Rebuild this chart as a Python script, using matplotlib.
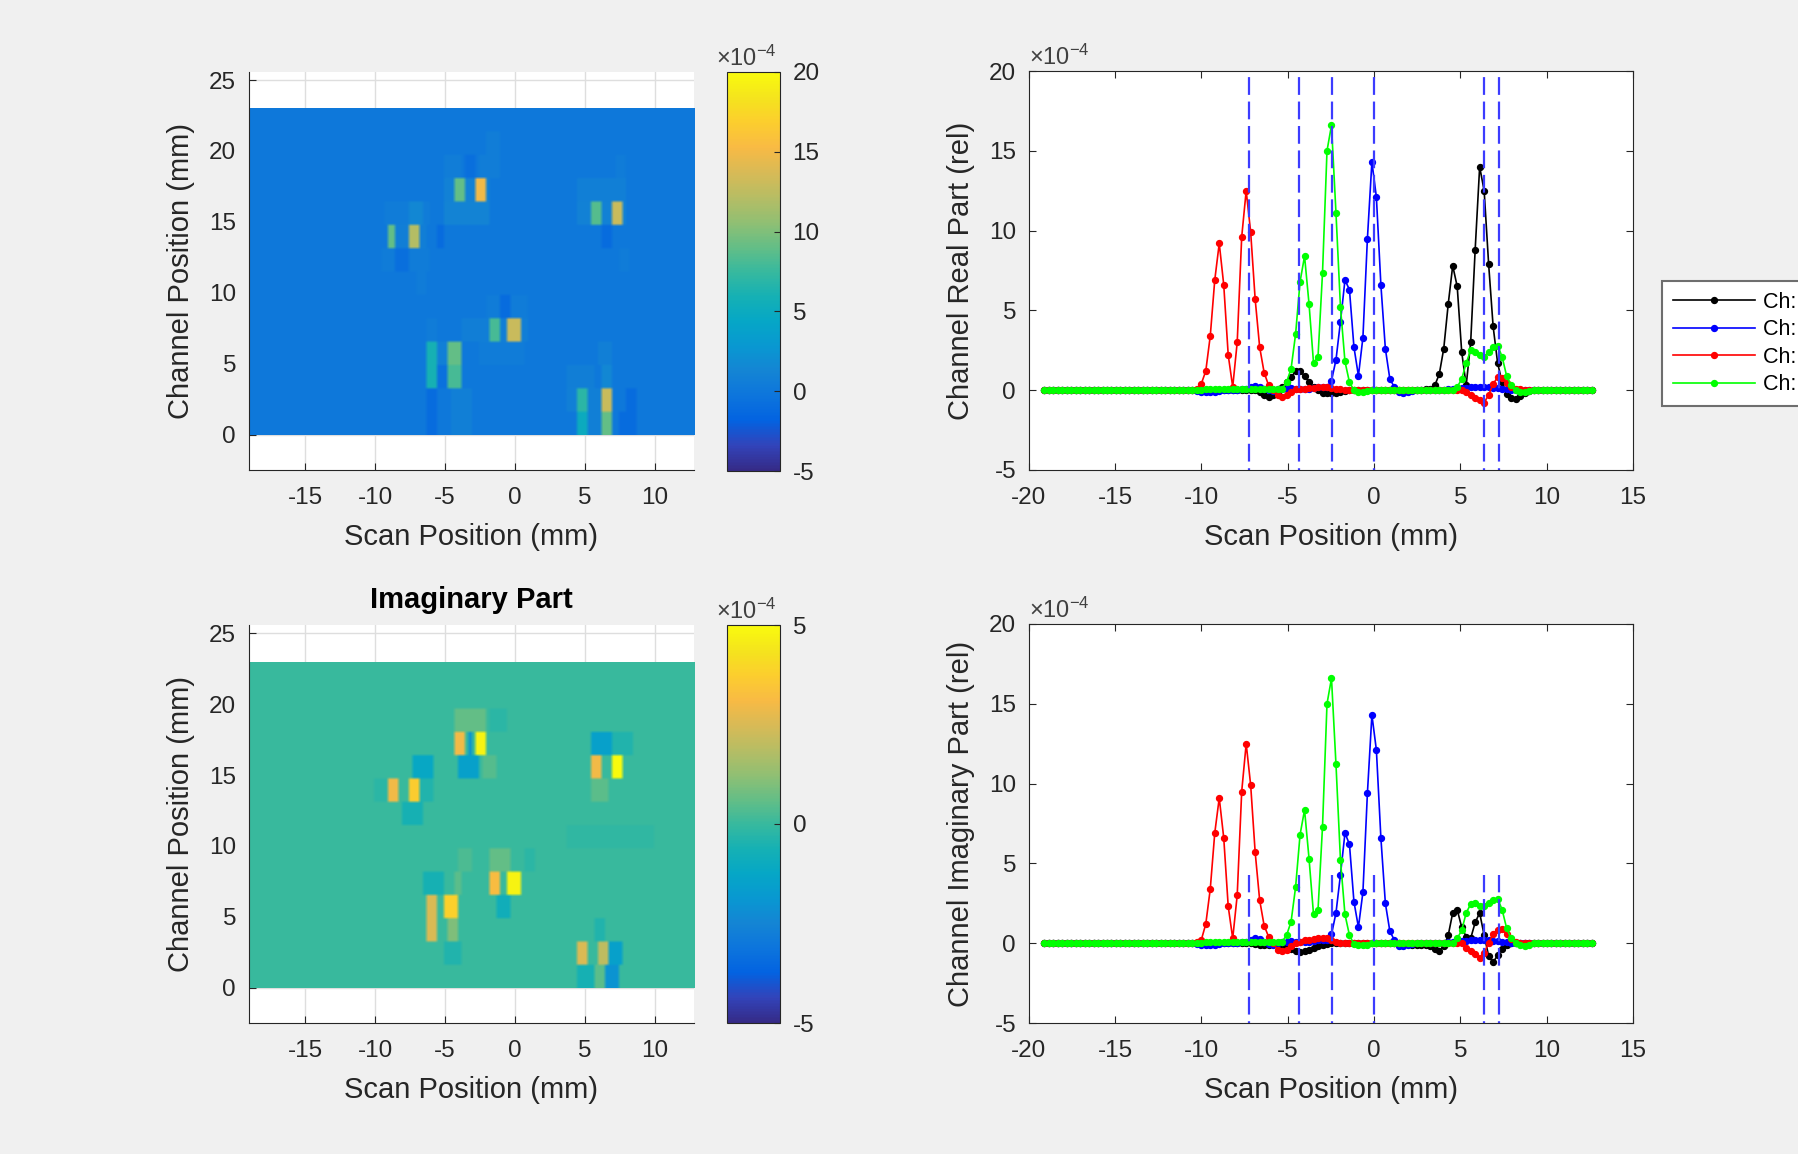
import numpy as np
import matplotlib
matplotlib.use('Agg')
import matplotlib.pyplot as plt
from matplotlib.colors import LinearSegmentedColormap

plt.rcParams['font.family'] = ['Liberation Sans', 'DejaVu Sans']
plt.rcParams['axes.unicode_minus'] = False
plt.rcParams['mathtext.fontset'] = 'custom'
plt.rcParams['mathtext.rm'] = 'Liberation Sans'
plt.rcParams['mathtext.it'] = 'Liberation Sans:italic'
plt.rcParams['mathtext.bf'] = 'Liberation Sans:bold'

# ---------------- line data (units of 1e-4) ----------------
# scan grid: 123 samples, 0.26 mm apart
scan_start = -19.1
scan_step = 0.26
n_scan = 123
scan_x = scan_start + scan_step * np.arange(n_scan)

# each series: (first sample index, values); samples not listed are 0
re_black = [(48, [-0.1, -0.3, -0.4, -0.3, -0.1, 0.2, 0.5, 0.8, 1.2, 1.2, 0.9, 0.5, 0.2, 0.0,
                  -0.15, -0.2, -0.2, -0.15, -0.1, -0.05]),
            (85, [0.05, 0.1, 0.3, 1.0, 2.6, 5.4, 7.8, 6.5, 2.4, 0.3, 3.0, 8.8, 14.0, 12.5, 7.9,
                  4.0, 1.7, 0.5, -0.25, -0.5, -0.55, -0.35, -0.15, -0.05])]
re_blue = [(34, [-0.05, -0.1, -0.1, -0.1, -0.1, -0.05, 0.0, 0.0, 0.0, 0.0, 0.05]),
           (45, [0.1, 0.2, 0.25, 0.2, 0.1, 0.0, -0.05, 0.05, 0.1, 0.1, 0.15, 0.1, 0.1, 0.1, 0.1,
                 0.15, 0.2, 0.2, 0.2, 0.6, 1.9, 4.3, 6.9, 6.3, 2.7, 0.9, 3.3, 9.5, 14.3, 12.1,
                 6.6, 2.6, 0.7, 0.2, -0.1, -0.15, -0.1, -0.05]),
           (90, [0.05, 0.1, 0.1, 0.15, 0.15, 0.2, 0.2, 0.2, 0.2, 0.2, 0.15, 0.15, 0.1, 0.05])]
re_red = [(34, [0.1, 0.4, 1.2, 3.4, 6.9, 9.2, 6.6, 2.2, 0.2, 3.0, 9.6, 12.5, 9.9, 5.7, 2.7, 1.1,
                0.3, 0.0, -0.3, -0.4, -0.3, -0.1, 0.05, 0.1, 0.1, 0.15, 0.15, 0.2, 0.2, 0.2,
                0.15, 0.1, 0.05]),
          (93, [0.0, -0.1, -0.3, -0.5, -0.6, -0.78, -0.3, 0.4, 0.8, 0.75, 0.45, 0.2, 0.1, 0.05])]
re_green = [(36, [0.1, 0.1, 0.1, 0.1, 0.1, 0.1, 0.1, 0.1, 0.1, 0.1, 0.1, 0.1, 0.1, 0.1, 0.1, 0.1,
                  0.05, 0.1, 0.5, 1.35, 3.5, 6.8, 8.4, 5.4, 1.7, 2.1, 7.35, 15.0, 16.6, 11.1, 5.2,
                  1.8, 0.5, 0.0, -0.1, -0.1, -0.05]),
            (92, [0.2, 0.7, 1.7, 2.5, 2.4, 2.2, 2.1, 2.4, 2.7, 2.8, 2.1, 0.9, 0.3, 0.0, -0.1, -0.1,
                  -0.05])]

im_black = [(47, [-0.05, -0.1, -0.1, -0.1, -0.05, -0.05, -0.1, -0.2, -0.35, -0.5, -0.55, -0.5,
                  -0.4, -0.3, -0.2, -0.1, -0.05]),
            (80, [-0.05, -0.05, -0.1, -0.1, -0.1, -0.1, -0.2, -0.35, -0.5, -0.2, 0.5, 1.9, 2.1,
                  1.0, 0.4, 0.3, 1.3, 1.9, 0.5, -0.8, -1.2, -0.75, -0.35, -0.1])]
im_blue = [(34, [-0.05, -0.1, -0.1, -0.1, -0.1, -0.05, 0.0, 0.0, 0.0, 0.0, 0.05]),
           (45, [0.1, 0.2, 0.3, 0.25, 0.1, -0.05, -0.1, 0.0, 0.1, 0.1, 0.15, 0.1, 0.1, 0.1, 0.1,
                 0.15, 0.2, 0.2, 0.2, 0.55, 1.9, 4.3, 6.9, 6.2, 2.6, 1.0, 3.2, 9.4, 14.3, 12.1,
                 6.6, 2.5, 0.75, 0.2, -0.2, -0.2, -0.1, -0.05]),
           (90, [0.05, 0.1, 0.15, 0.15, 0.15, 0.2, 0.2, 0.2, 0.2, 0.2, 0.15, 0.15, 0.1, 0.05])]
im_red = [(34, [0.1, 0.2, 1.2, 3.4, 6.9, 9.1, 6.6, 2.3, 0.3, 3.0, 9.5, 12.5, 9.9, 5.7, 2.7, 1.1,
                0.4, 0.0, -0.4, -0.5, -0.4, -0.2, 0.0, 0.1, 0.2, 0.2, 0.25, 0.3, 0.3, 0.3, 0.2,
                0.1, 0.0]),
          (93, [0.0, -0.3, -0.5, -0.7, -0.9, -0.6, 0.0, 0.6, 0.85, 0.9, 0.55, 0.25, 0.1, 0.0])]
im_green = [(36, [0.1, 0.1, 0.1, 0.1, 0.1, 0.1, 0.1, 0.1, 0.1, 0.1, 0.1, 0.1, 0.1, 0.1, 0.1, 0.1,
                  0.05, 0.1, 0.5, 1.35, 3.5, 6.8, 8.35, 5.3, 1.8, 2.1, 7.3, 15.0, 16.6, 11.2, 5.2,
                  1.8, 0.5, -0.05, -0.1, -0.1, -0.1]),
            (92, [0.3, 0.8, 1.9, 2.45, 2.5, 2.3, 2.3, 2.55, 2.7, 2.8, 2.1, 0.95, 0.3, 0.0, -0.1,
                  -0.15, -0.1])]

ch_labels = ['Ch: 1', 'Ch: 2', 'Ch: 3', 'Ch: 4']
ch_colors = ['k', 'b', 'r', '#00ff00']
dash_x = [-7.24, -4.35, -2.43, 0.0, 6.35, 7.26]

# ---------------- map data (units of 1e-4) ----------------
# 14 channel rows over 0..23 mm, scan columns every 0.25 mm
n_rows = 14
map_x = np.arange(-19.0, 12.8, 0.25)
# (row, x from, x to, value); unlisted cells are 0
re_cells = [
    (12, -2.2, -1.1, 0.6),
    (11, -5.0, -3.8, 0.6), (11, -3.7, -2.8, -0.8), (11, -2.6, -1.0, 0.6), (11, 7.2, 8.0, 0.4),
    (10, -5.0, -1.8, 1.0), (10, 4.3, 7.9, 0.8), (10, -4.4, -3.7, 9.0), (10, -2.9, -2.0, 15.0),
    (9, -9.3, -6.1, 0.5), (9, -7.7, -6.7, 1.5), (9, -5.0, -1.9, 1.2), (9, 4.4, 8.0, 1.0),
    (9, 5.4, 6.1, 8.5), (9, 6.9, 7.6, 13.0),
    (8, -8.5, -6.4, 0.7), (8, -5.7, -5.0, -1.0), (8, 6.1, 6.8, -1.0), (8, -9.2, -8.5, 9.0),
    (8, -7.6, -6.8, 12.0),
    (7, -9.6, -6.1, 0.4), (7, -8.5, -7.7, -0.8), (7, 7.3, 8.2, 0.4),
    (6, -7.2, -6.3, 0.4),
    (5, -2.2, 0.8, 0.4), (5, -1.1, -0.4, -1.0),
    (4, -6.4, -5.6, 0.5), (4, -3.9, 0.8, 0.7), (4, -1.9, -1.2, 8.0), (4, -0.5, 0.4, 13.0),
    (3, -5.6, -4.8, 0.8), (3, -2.5, 0.6, 0.5), (3, 5.9, 7.0, 0.8), (3, -6.4, -5.6, 6.0),
    (3, -4.8, -3.9, 9.0),
    (2, -5.6, -4.8, -0.6), (2, 3.6, 5.6, 0.7), (2, 6.1, 7.0, 1.5), (2, -6.4, -5.6, 6.0),
    (2, -4.8, -3.9, 8.0),
    (1, -6.3, -5.6, -1.0), (1, -4.6, -3.2, 0.8), (1, 3.6, 6.1, 0.8), (1, 7.9, 8.7, -1.0),
    (1, 4.4, 5.1, 7.0), (1, 6.1, 6.8, 13.0),
    (0, -6.3, -5.6, -1.0), (0, -4.6, -3.2, 0.8), (0, 5.1, 6.1, 0.8), (0, 7.3, 8.7, -1.0),
    (0, 4.3, 5.1, 5.0), (0, 6.1, 7.0, 9.0),
]
im_cells = [
    (11, -4.3, -2.0, 0.6), (11, -1.9, -0.6, -0.2),
    (10, 5.4, 6.9, -1.5), (10, 6.9, 8.3, -0.4), (10, -4.3, -3.7, 3.0), (10, -3.45, -3.0, -2.0),
    (10, -2.9, -2.0, 4.8),
    (9, -7.4, -5.8, -1.2), (9, -4.0, -2.5, -1.5), (9, -2.4, -1.4, 0.4), (9, 5.4, 6.1, 3.0),
    (9, 6.8, 7.6, 5.0),
    (8, -10.0, -9.1, -0.2), (8, -6.8, -5.8, -0.4), (8, 5.4, 6.6, 0.5), (8, -9.1, -8.3, 3.0),
    (8, -7.6, -6.8, 3.7),
    (7, -8.0, -6.6, -0.6),
    (6, 3.6, 10.0, -0.15),
    (5, -4.2, -3.2, 0.3), (5, -1.9, -0.4, 0.6), (5, 0.6, 1.5, -0.2),
    (4, -6.5, -5.1, -0.6), (4, -4.4, -3.9, 0.5), (4, -1.9, -1.2, 3.2), (4, -0.5, 0.5, 4.8),
    (3, -1.3, -0.4, -0.8), (3, -6.4, -5.6, 2.5), (3, -5.0, -4.2, 3.8),
    (2, 5.6, 6.5, -0.4), (2, -6.3, -5.5, 2.5), (2, -4.8, -4.2, 1.0),
    (1, -5.0, -3.9, -0.4), (1, 6.7, 7.6, -1.5), (1, 4.4, 5.2, 2.5), (1, 5.95, 6.7, 2.0),
    (0, 4.4, 5.6, -0.6), (0, 5.6, 6.3, 0.5), (0, 6.4, 7.4, -2.0),
]

# parula-like colormap
parula = LinearSegmentedColormap.from_list('parula', [
    (0.2081, 0.1663, 0.5292), (0.1959, 0.2645, 0.7279), (0.0117, 0.3875, 0.8820),
    (0.0498, 0.4586, 0.8641), (0.0793, 0.5200, 0.8312), (0.0343, 0.5966, 0.8199),
    (0.0228, 0.6535, 0.7768), (0.0843, 0.6928, 0.7062), (0.2178, 0.7250, 0.6193),
    (0.3953, 0.7459, 0.5244), (0.5709, 0.7485, 0.4494), (0.7184, 0.7411, 0.3905),
    (0.8507, 0.7299, 0.3360), (0.9739, 0.7314, 0.2666), (0.9880, 0.8066, 0.1794),
    (0.9589, 0.8949, 0.1132), (0.9763, 0.9831, 0.0538)])


def build_series(segments):
    y = np.zeros(n_scan)
    for k0, vals in segments:
        y[k0:k0 + len(vals)] = vals
    return y


def build_map(cells):
    m = np.zeros((n_rows, len(map_x)))
    for row, x0, x1, v in cells:
        m[row, (map_x >= x0) & (map_x < x1)] = v
    # repeat rows so the smoothing only softens edges, like the screen capture
    return np.repeat(m, 8, axis=0)


dark = '#262626'
W, H = 1798, 1154
fig = plt.figure(figsize=(W / 100, H / 100), dpi=100, facecolor='#f0f0f0')


def px_axes(left, top, right, bottom):
    return fig.add_axes([left / W, 1 - bottom / H, (right - left) / W, (bottom - top) / H])


def draw_map(ax, cax, cells, vmin, vmax, cticks):
    im = ax.imshow(build_map(cells), cmap=parula, vmin=vmin, vmax=vmax, origin='lower',
                   extent=(map_x[0] - 0.125, map_x[-1] + 0.125, 0, 23), aspect='auto',
                   interpolation='bilinear', zorder=1)
    ax.set_xlim(-19.05, 12.8)
    ax.set_ylim(-2.5, 25.6)
    ax.set_xticks([-15, -10, -5, 0, 5, 10])
    ax.set_yticks([0, 5, 10, 15, 20, 25])
    ax.grid(True, color='#dedede', lw=1)
    ax.set_axisbelow(True)
    for s in ['top', 'right']:
        ax.spines[s].set_visible(False)
    for s in ['left', 'bottom']:
        ax.spines[s].set_color(dark)
    ax.tick_params(direction='in', length=5, labelsize=17.5, colors=dark, pad=9)
    ax.tick_params(axis='x', pad=12)
    ax.set_xlabel('Scan Position (mm)', fontsize=21, color=dark, labelpad=10)
    ax.set_ylabel('Channel Position (mm)', fontsize=21, color=dark, labelpad=10)
    cb = fig.colorbar(im, cax=cax)
    cb.set_ticks(cticks)
    cb.outline.set_edgecolor(dark)
    cax.tick_params(direction='in', length=4, labelsize=17.5, colors=dark, pad=9)
    cax.text(-0.2, 1.003, '×10$^{-4}$', transform=cax.transAxes, ha='left', va='bottom',
             fontsize=17, color='#404040')


def draw_lines(ax, series, ylabel, dash_top):
    lines = []
    for segs, c, lab in zip(series, ch_colors, ch_labels):
        ln, = ax.plot(scan_x, build_series(segs), '.-', color=c, lw=1.2, ms=8.5, label=lab)
        lines.append(ln)
    ax.vlines(dash_x, -6, dash_top, colors='#3c3cff', linestyles=(0, (8, 3)), lw=1.6)
    ax.set_xlim(-20, 15)
    ax.set_ylim(-5, 20)
    ax.set_xticks(range(-20, 16, 5))
    ax.set_yticks(range(-5, 21, 5))
    for s in ax.spines.values():
        s.set_color(dark)
    ax.tick_params(direction='in', length=5, labelsize=17.5, colors=dark, pad=9,
                   top=True, right=True)
    ax.tick_params(axis='x', pad=12)
    ax.set_xlabel('Scan Position (mm)', fontsize=21, color=dark, labelpad=10)
    ax.set_ylabel(ylabel, fontsize=21, color=dark, labelpad=10)
    ax.text(0.0, 1.003, '×10$^{-4}$', transform=ax.transAxes, ha='left', va='bottom',
            fontsize=17, color='#404040')
    return lines


ax_hr = px_axes(248.5, 71.5, 694, 470)
cax_r = px_axes(726.5, 72, 780, 471)
ax_lr = px_axes(1028.6, 71, 1633, 470)
ax_hi = px_axes(248.5, 625, 694, 1023)
cax_i = px_axes(726.5, 625, 780, 1023)
ax_li = px_axes(1028.6, 624, 1633, 1023)

draw_map(ax_hr, cax_r, re_cells, -5, 20, [-5, 0, 5, 10, 15, 20])
draw_map(ax_hi, cax_i, im_cells, -5, 5, [-5, 0, 5])
ax_hi.set_title('Imaginary Part', fontsize=21, fontweight='bold', pad=12)

handles = draw_lines(ax_lr, [re_black, re_blue, re_red, re_green], 'Channel Real Part (rel)', 21)
draw_lines(ax_li, [im_black, im_blue, im_red, im_green], 'Channel Imaginary Part (rel)', 4.3)

# legend sits at the right edge of the window, its labels run past the edge as in the capture
leg = fig.legend(handles=handles, loc='upper left', bbox_to_anchor=(1662 / W, 1 - 281 / H),
                 borderaxespad=0, fontsize=15.5, handlelength=3.8, handletextpad=0.4,
                 borderpad=0.5, labelspacing=0.3, fancybox=False, framealpha=1,
                 edgecolor='#6e6e6e')
leg.get_frame().set_linewidth(1.5)

fig.savefig('out.png', dpi=100, facecolor=fig.get_facecolor())
